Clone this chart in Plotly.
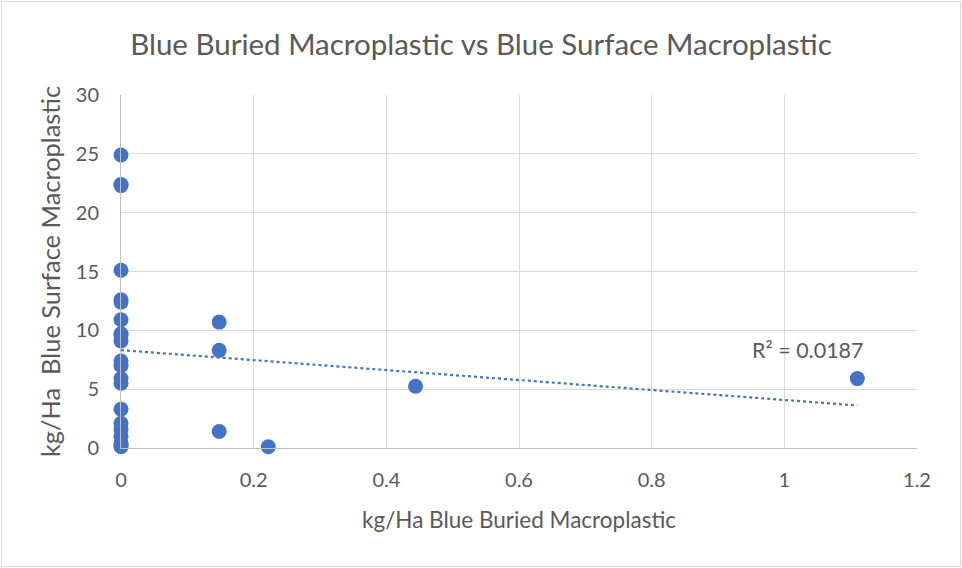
import numpy as np
import plotly.graph_objects as go

buried = [0, 0, 0, 0, 0, 0, 0, 0, 0, 0, 0, 0, 0, 0, 0, 0, 0, 0, 0, 0, 0,
          0.148, 0.148, 0.148, 0.222, 0.444, 1.11]
surface = [24.9, 22.4, 22.3, 15.1, 12.6, 12.4, 10.9, 9.7, 9.6, 9.1, 7.4, 7.0,
           5.9, 5.5, 3.3, 2.1, 1.6, 1.0, 0.4, 0.2, 0.1,
           10.7, 8.3, 1.4, 0.1, 5.25, 5.9]
r2_label = "R² = 0.0187"

x = np.array(buried)
y = np.array(surface)
slope, intercept = np.polyfit(x, y, 1)
tx = np.array([x.min(), x.max()])
ty = intercept + slope * tx

blue = "#4472C4"
grey = "#595959"
font = "Lato, Open Sans, sans-serif"

fig = go.Figure()
fig.add_trace(go.Scatter(x=tx, y=ty, mode="lines",
                         line=dict(color=blue, width=2.2, dash="dot"),
                         hoverinfo="skip", showlegend=False, cliponaxis=False))
fig.add_trace(go.Scatter(x=buried, y=surface, mode="markers",
                         marker=dict(color=blue, size=15), showlegend=False,
                         cliponaxis=False))

fig.add_annotation(x=1.035, y=8.3, text=r2_label, showarrow=False,
                   font=dict(size=21.5, color=grey, family=font))

W, H = 962, 568
l, r, t, b = 121, 45, 95, 120
pw, ph = W - l - r, H - t - b
fig.add_shape(type="rect", xref="paper", yref="paper",
              x0=(1.5 - l) / pw, x1=(W - 1.5 - l) / pw,
              y0=-(H - 1.5 - t - ph) / ph, y1=(t - 1.5 + ph) / ph,
              line=dict(color="#d9d9d9", width=1), layer="below")

fig.update_layout(
    width=W, height=H,
    margin=dict(l=l, r=r, t=t, b=b),
    paper_bgcolor="white", plot_bgcolor="white",
    font=dict(family=font, color=grey),
    title=dict(text="Blue Buried Macroplastic vs Blue Surface Macroplastic",
               x=0.5, xref="container", xanchor="center", y=1 - 45 / H, yanchor="middle",
               font=dict(size=29.5, color=grey, family=font)),
    xaxis=dict(range=[0, 1.2], dtick=0.2, tick0=0,
               showgrid=True, gridcolor="#d9d9d9", gridwidth=1,
               zeroline=False, showline=True, linecolor="#bfbfbf", linewidth=1,
               ticks="", tickfont=dict(size=20, color=grey), ticklabelstandoff=14,
               title=dict(text="kg/Ha Blue Buried Macroplastic",
                          font=dict(size=22.5, color=grey), standoff=22)),
    yaxis=dict(range=[0, 30], dtick=5, tick0=0,
               showgrid=True, gridcolor="#d9d9d9", gridwidth=1,
               zeroline=False, showline=True, linecolor="#bfbfbf", linewidth=1,
               ticks="", tickfont=dict(size=20, color=grey), ticklabelstandoff=17,
               title=dict(text="kg/Ha  Blue Surface Macroplastic",
                          font=dict(size=25.4, color=grey), standoff=7)),
)

fig.write_html("out.html")
